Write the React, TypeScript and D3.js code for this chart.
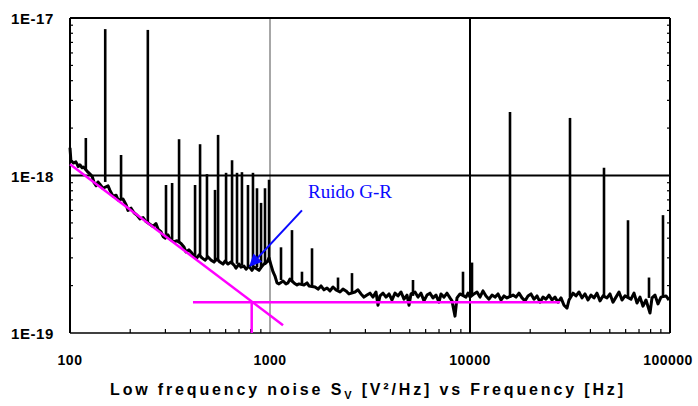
import React from "react";
import * as d3 from "d3";

// Noise floor trace: frequency (Hz) and spectral density (V²/Hz)
const noiseFreq = [100,101,104,107,110,112,115,117,123,126,129,132,135,138,141,146,155,158,164,170,174,184,191,195,202,209,216,224,232,240,251,260,269,276,285,292,299,309,316,331,343,359,372,380,393,407,417,431,442,457,473,490,508,525,543,562,582,596,617,638,661,676,700,716,741,759,785,813,832,851,881,912,933,966,989,1012,1035,1059,1084,1109,1162,1202,1230,1259,1318,1365,1396,1479,1531,1567,1679,1738,1799,1862,1928,1995,2065,2138,2239,2317,2399,2483,2661,2754,2851,2951,3055,3162,3273,3388,3467,3548,3673,3802,3936,4074,4217,4365,4519,4677,4842,4955,5070,5309,5495,5689,5888,6095,6310,6531,6761,6998,7161,7413,7674,7943,8128,8414,8610,8913,9550,9772,10000,10471,10839,11220,11614,12023,12445,12882,13335,13804,14289,14791,15311,16406,16982,17579,18197,18836,19498,20184,20893,21627,22387,23174,23988,24831,25704,26607,27542,28510,29512,30549,31261,32734,33884,35075,36308,37584,38905,40272,41687,43152,44668,46238,48417,50119,51880,53703,55590,57544,59566,63826,66069,68391,70795,73282,75858,79433,81283,84140,87096,90157,95499,98855];
const noiseValue = [15.0e-19,12.5e-19,12.0e-19,12.2e-19,11.4e-19,11.7e-19,11.2e-19,11.3e-19,10.5e-19,10.2e-19,9.9e-19,9.0e-19,8.6e-19,9.1e-19,8.8e-19,8.3e-19,8.6e-19,8.1e-19,7.4e-19,7.5e-19,7.0e-19,7.1e-19,6.5e-19,6.0e-19,6.2e-19,5.8e-19,5.6e-19,5.3e-19,5.4e-19,5.1e-19,4.9e-19,4.75e-19,4.95e-19,4.55e-19,4.4e-19,4.1e-19,4.0e-19,4.2e-19,3.95e-19,3.8e-19,3.85e-19,3.7e-19,3.5e-19,3.27e-19,3.37e-19,3.22e-19,3.08e-19,3.0e-19,3.13e-19,3.0e-19,2.9e-19,3.04e-19,2.9e-19,2.82e-19,2.95e-19,2.82e-19,2.74e-19,2.86e-19,2.74e-19,2.82e-19,2.7e-19,2.58e-19,2.74e-19,2.62e-19,2.66e-19,2.54e-19,2.66e-19,2.5e-19,2.62e-19,2.58e-19,2.5e-19,2.66e-19,2.74e-19,2.82e-19,3.0e-19,2.7e-19,2.45e-19,2.3e-19,2.08e-19,2.05e-19,2.14e-19,2.05e-19,2.08e-19,2.2e-19,2.08e-19,2.02e-19,2.05e-19,2.02e-19,2.08e-19,1.99e-19,1.96e-19,1.9e-19,1.99e-19,1.88e-19,1.93e-19,1.85e-19,1.96e-19,1.88e-19,1.82e-19,1.9e-19,1.85e-19,1.77e-19,1.82e-19,1.88e-19,1.77e-19,1.69e-19,1.74e-19,1.79e-19,1.69e-19,1.82e-19,1.5e-19,1.72e-19,1.79e-19,1.69e-19,1.77e-19,1.62e-19,1.79e-19,1.72e-19,1.82e-19,1.64e-19,1.74e-19,1.5e-19,1.77e-19,1.82e-19,1.69e-19,1.79e-19,1.6e-19,1.74e-19,1.79e-19,1.67e-19,1.74e-19,1.57e-19,1.77e-19,1.69e-19,1.79e-19,1.67e-19,1.6e-19,1.28e-19,1.67e-19,1.77e-19,1.69e-19,1.79e-19,1.69e-19,1.77e-19,1.82e-19,1.69e-19,1.85e-19,1.72e-19,1.64e-19,1.74e-19,1.69e-19,1.77e-19,1.62e-19,1.72e-19,1.67e-19,1.74e-19,1.69e-19,1.79e-19,1.67e-19,1.6e-19,1.72e-19,1.77e-19,1.64e-19,1.72e-19,1.57e-19,1.69e-19,1.64e-19,1.74e-19,1.62e-19,1.69e-19,1.57e-19,1.67e-19,1.5e-19,1.44e-19,1.62e-19,1.79e-19,1.72e-19,1.82e-19,1.67e-19,1.77e-19,1.62e-19,1.74e-19,1.67e-19,1.79e-19,1.6e-19,1.72e-19,1.67e-19,1.77e-19,1.57e-19,1.69e-19,1.82e-19,1.62e-19,1.72e-19,1.64e-19,1.79e-19,1.55e-19,1.69e-19,1.48e-19,1.62e-19,1.34e-19,1.67e-19,1.74e-19,1.53e-19,1.69e-19,1.72e-19,1.62e-19];

// Harmonic / interference spikes
const spikeFreq = [120,150,180,245,302,324,351,422,447,484,531,550,603,646,684,724,776,822,861,902,944,989,1135,1288,1445,1622,2188,2570,5188,9226,10233,15849,31623,46774,61660,78524,92257];
const spikeTop = [17.3e-19,85e-19,13.5e-19,84e-19,8.7e-19,8.96e-19,17.0e-19,8.7e-19,15.8e-19,10.2e-19,8.1e-19,18.1e-19,10.4e-19,12.5e-19,10.4e-19,10.5e-19,8.7e-19,10.4e-19,8.3e-19,6.7e-19,8.3e-19,9.4e-19,3.5e-19,4.5e-19,2.45e-19,3.45e-19,2.25e-19,2.4e-19,2.17e-19,2.45e-19,2.8e-19,25.3e-19,23.2e-19,11.2e-19,5.2e-19,2.25e-19,5.6e-19];
const spikeBase = [10.8e-19,9.1e-19,7.0e-19,5.0e-19,4.2e-19,3.95e-19,3.75e-19,3.1e-19,3.05e-19,3.0e-19,2.9e-19,2.9e-19,2.8e-19,2.78e-19,2.75e-19,2.7e-19,2.66e-19,2.62e-19,2.62e-19,2.62e-19,2.7e-19,2.82e-19,2.17e-19,2.1e-19,2.05e-19,1.99e-19,1.88e-19,1.82e-19,1.72e-19,1.72e-19,1.72e-19,1.67e-19,1.69e-19,1.72e-19,1.67e-19,1.67e-19,1.67e-19];

// Fit lines (1/f slope, white-noise floor, corner frequency)
const fitSlopeFreq = [100, 1162];
const fitSlopeValue = [1.18e-18, 1.12e-19];
const fitFloorFreq = [412, 28184];
const fitFloorValue = 1.57e-19;
const cornerFreq = 810;

const xTickValues = [100, 1000, 10000, 100000];
const xTickLabels = ["100", "1000", "10000", "100000"];
const yTickValues = [1e-17, 1e-18, 1e-19];
const yTickLabels = ["1E-17", "1E-18", "1E-19"];

// annotation: arrow tail / tip (freq, value)
const arrowFreq = [1445, 785];
const arrowValue = [6.0e-19, 2.62e-19];
const annotationText = "Ruido G-R";

export default function App() {
  const W = 698, H = 406;
  const left = 70, right = 670, top = 18, bottom = 333;
  const x = d3.scaleLog().domain([100, 100000]).range([left, right]);
  const y = d3.scaleLog().domain([1e-19, 1e-17]).range([bottom, top]);

  const line = d3.line<number>()
    .x((_, i) => x(noiseFreq[i]))
    .y((d) => y(d));
  const tracePath = line(noiseValue) || "";

  const minorX: number[] = [];
  for (const dec of [100, 1000, 10000]) for (let k = 2; k <= 9; k++) minorX.push(dec * k);
  const minorY: number[] = [];
  for (const dec of [1e-19, 1e-18]) for (let k = 2; k <= 9; k++) minorY.push(dec * k);

  const font = "'Liberation Sans', Arial, sans-serif";
  const magenta = "#ff00ff";
  const blue = "#0a0aff";

  const ax1 = x(arrowFreq[0]), ay1 = y(arrowValue[0]);
  const ax2 = x(arrowFreq[1]), ay2 = y(arrowValue[1]);
  const ang = Math.atan2(ay2 - ay1, ax2 - ax1);
  const hl = 13, hw = 6;
  const bx = ax2 - hl * Math.cos(ang), by = ay2 - hl * Math.sin(ang);
  const head = `M${ax2},${ay2} L${bx + hw * Math.sin(ang)},${by - hw * Math.cos(ang)} L${bx - hw * Math.sin(ang)},${by + hw * Math.cos(ang)} Z`;

  return (
    <svg width={W} height={H} style={{ position: "absolute", left: 0, top: 0, background: "#fff" }}>
      <rect width={W} height={H} fill="#fff" />
      {/* grid */}
      <line x1={x(1000)} x2={x(1000)} y1={top} y2={bottom} stroke="#8a8a8a" strokeWidth={1.5} />
      <line x1={x(10000)} x2={x(10000)} y1={top} y2={bottom} stroke="#000" strokeWidth={2} />
      <line x1={left} x2={right} y1={y(1e-18)} y2={y(1e-18)} stroke="#000" strokeWidth={2} />

      {/* trace */}
      <path d={tracePath} fill="none" stroke="#000" strokeWidth={3} strokeLinejoin="round" />
      {spikeFreq.map((f, i) => (
        <line key={i} x1={x(f)} x2={x(f)} y1={y(spikeBase[i])} y2={y(spikeTop[i])} stroke="#000" strokeWidth={2.6} />
      ))}

      {/* frame */}
      <line x1={left} x2={right} y1={top} y2={top} stroke="#000" strokeWidth={2} />
      <line x1={right} x2={right} y1={top} y2={bottom} stroke="#000" strokeWidth={2} />
      <line x1={left} x2={left} y1={top} y2={bottom} stroke="#000" strokeWidth={2} />
      <line x1={left} x2={right} y1={bottom} y2={bottom} stroke="#000" strokeWidth={1.5} />
      {minorX.map((v, i) => (
        <line key={"mx" + i} x1={x(v)} x2={x(v)} y1={bottom} y2={bottom - 4} stroke="#000" strokeWidth={1.2} />
      ))}
      {minorY.map((v, i) => (
        <g key={"my" + i}>
          <line x1={left} x2={left + 3} y1={y(v)} y2={y(v)} stroke="#000" strokeWidth={1.2} />
          <line x1={right} x2={right - 3} y1={y(v)} y2={y(v)} stroke="#000" strokeWidth={1.2} />
        </g>
      ))}

      {/* fit lines */}
      <line x1={x(fitSlopeFreq[0])} y1={y(fitSlopeValue[0])} x2={x(fitSlopeFreq[1])} y2={y(fitSlopeValue[1])} stroke={magenta} strokeWidth={2.5} />
      <line x1={x(fitFloorFreq[0])} y1={y(fitFloorValue)} x2={x(fitFloorFreq[1])} y2={y(fitFloorValue)} stroke={magenta} strokeWidth={2.5} />
      <line x1={x(cornerFreq)} y1={y(fitFloorValue)} x2={x(cornerFreq)} y2={bottom} stroke={magenta} strokeWidth={2.5} />

      {/* annotation */}
      <line x1={ax1} y1={ay1} x2={bx} y2={by} stroke={blue} strokeWidth={2} />
      <path d={head} fill={blue} />
      <text x={308} y={198} fontFamily="'Liberation Serif', 'Times New Roman', serif" fontSize={19} fill={blue}>{annotationText}</text>

      {/* tick labels */}
      {yTickValues.map((v, i) => (
        <text key={"yt" + i} x={54} y={y(v) + 6} textAnchor="end" fontFamily={font} fontWeight="bold" fontSize={15} letterSpacing={0.6}>{yTickLabels[i]}</text>
      ))}
      {xTickValues.map((v, i) => (
        <text key={"xt" + i} x={x(v) - (i === 3 ? 2 : 0)} y={365} textAnchor="middle" fontFamily={font} fontWeight="bold" fontSize={14} letterSpacing={0.5}>{xTickLabels[i]}</text>
      ))}

      {/* axis title */}
      <text x={110} y={395} fontFamily={font} fontWeight="bold" fontSize={16} textLength={513} lengthAdjust="spacing">
        Low frequency noise S<tspan fontSize={11} dy={4}>V</tspan><tspan dy={-4}> [V²/Hz] vs Frequency [Hz]</tspan>
      </text>
    </svg>
  );
}
